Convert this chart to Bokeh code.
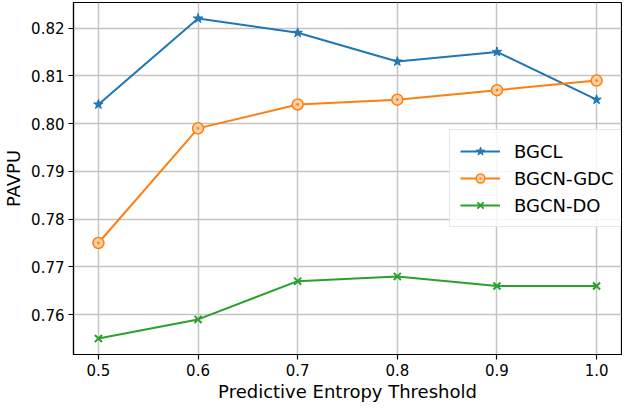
from bokeh.plotting import figure
from bokeh.models import FixedTicker, PrintfTickFormatter, Range1d, Legend, LegendItem
from bokeh.embed import file_html
from bokeh.resources import INLINE

thresholds = [0.5, 0.6, 0.7, 0.8, 0.9, 1.0]
bgcl = [0.804, 0.822, 0.819, 0.813, 0.815, 0.805]
bgcn_gdc = [0.775, 0.799, 0.804, 0.805, 0.807, 0.809]
bgcn_do = [0.755, 0.759, 0.767, 0.768, 0.766, 0.766]
x_ticks = [0.5, 0.6, 0.7, 0.8, 0.9, 1.0]
y_ticks = [0.76, 0.77, 0.78, 0.79, 0.80, 0.81, 0.82]

FONT = "DejaVu Sans"

p = figure(width=622, height=404, output_backend="svg", toolbar_location=None,
           x_range=Range1d(0.475, 1.025), y_range=Range1d(0.75165, 0.82535),
           min_border_left=2, min_border_right=1, min_border_top=2, min_border_bottom=0)

p.background_fill_color = "white"
p.outline_line_color = "black"
p.outline_line_width = 1.2

for ax in (p.xaxis[0], p.yaxis[0]):
    ax.axis_line_color = "black"
    ax.axis_line_width = 1.2
    ax.major_tick_line_color = "black"
    ax.major_tick_line_width = 1.2
    ax.major_tick_out = 5
    ax.major_tick_in = 0
    ax.minor_tick_line_color = None
    ax.major_label_text_font = FONT
    ax.major_label_text_font_size = "15px"
    ax.major_label_text_color = "black"
    ax.axis_label_text_font = FONT
    ax.axis_label_text_font_size = "18px"
    ax.axis_label_text_font_style = "normal"
    ax.axis_label_text_color = "black"
    ax.major_label_standoff = 4

p.xaxis[0].ticker = FixedTicker(ticks=x_ticks)
p.yaxis[0].ticker = FixedTicker(ticks=y_ticks)
p.xaxis[0].formatter = PrintfTickFormatter(format="%.1f")
p.yaxis[0].formatter = PrintfTickFormatter(format="%.2f")
p.xaxis[0].axis_label = "Predictive Entropy Threshold"
p.yaxis[0].axis_label = "PAVPU"
p.xaxis[0].axis_label_standoff = 2
p.yaxis[0].axis_label_standoff = 4

p.xgrid.ticker = FixedTicker(ticks=x_ticks)
p.ygrid.ticker = FixedTicker(ticks=y_ticks)
for g in (p.xgrid[0], p.ygrid[0]):
    g.grid_line_color = "#c4c4c4"
    g.grid_line_width = 1.5

blue, orange, green = "#1f77b4", "#ff7f0e", "#2ca02c"

l1 = p.line(thresholds, bgcl, line_color=blue, line_width=2)
m1 = p.scatter(thresholds, bgcl, marker="star", size=10, fill_color=blue, line_color=blue)
l2 = p.line(thresholds, bgcn_gdc, line_color=orange, line_width=2)
m2 = p.scatter(thresholds, bgcn_gdc, marker="circle_dot", size=11, fill_color="#ffd0a8",
               line_color=orange, line_width=1.5)
l3 = p.line(thresholds, bgcn_do, line_color=green, line_width=2)
m3 = p.scatter(thresholds, bgcn_do, marker="x", size=10, line_color=green, line_width=2)

legend = Legend(items=[
    LegendItem(label="BGCL", renderers=[l1, m1]),
    LegendItem(label="BGCN-GDC", renderers=[l2, m2]),
    LegendItem(label="BGCN-DO", renderers=[l3, m3]),
], location=(376, 127))
legend.label_text_font = FONT
legend.label_text_font_size = "18px"
legend.label_text_color = "black"
legend.glyph_width = 40
legend.glyph_height = 22
legend.label_standoff = 14
legend.spacing = 5
legend.padding = 10
legend.border_line_color = "#d0d0d0"
legend.border_line_width = 1.2
legend.background_fill_alpha = 0.85
p.add_layout(legend, "center")

open("out.html", "w").write(file_html(p, INLINE))
